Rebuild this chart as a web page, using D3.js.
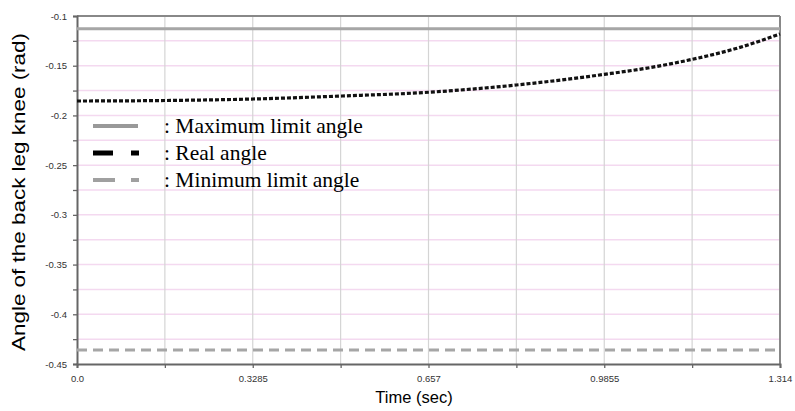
<!DOCTYPE html>
<html>
<head>
<meta charset="utf-8">
<script src="https://d3js.org/d3.v7.min.js"></script>
<style>
  body { margin: 0; background: #fff; }
  .tick text { font-family: Arial, "Liberation Sans", sans-serif; font-size: 9.5px; fill: #333; }
</style>
</head>
<body>
<script>
// ** data
var timeTicks = [0, 0.3285, 0.657, 0.9855, 1.314];
var timeTickLabels = ["0.0", "0.3285", "0.657", "0.9855", "1.314"];
var angleTicks = [-0.1, -0.15, -0.2, -0.25, -0.3, -0.35, -0.4, -0.45];
var realTime = [0, 0.16425, 0.3285, 0.49275, 0.657, 0.82125, 0.9855, 1.07, 1.14975, 1.23, 1.314];
var realAngle = [-0.1855, -0.185, -0.1835, -0.1805, -0.1767, -0.1694, -0.1587, -0.1520, -0.1436, -0.1330, -0.1181];
var maxLimit = -0.1128;
var minLimit = -0.436;
var legendLabels = [": Maximum limit angle", ": Real angle", ": Minimum limit angle"];

// ** canvas
var width = 795, height = 411;
var padding = { top: 16, right: 15, bottom: 47, left: 77 };
var w = width - padding.left - padding.right;
var h = height - padding.top - padding.bottom;

var svg = d3.select("body").append("svg")
    .attr("width", width)
    .attr("height", height);

var x = d3.scaleLinear().domain([0, 1.314]).range([0, w]);
var y = d3.scaleLinear().domain([-0.45, -0.1]).range([h, 0]);

var g = svg.append("g")
    .attr("transform", "translate(" + padding.left + "," + padding.top + ")");

// grid
var xGrid = d3.range(9).map(function(i){ return 1.314 * i / 8; });
var yGrid = d3.range(15).map(function(i){ return -0.45 + 0.025 * i; });

g.append("g").selectAll("line").data(yGrid.slice(1, 14)).enter().append("line")
    .attr("x1", 0).attr("x2", w)
    .attr("y1", function(d){ return y(d); })
    .attr("y2", function(d){ return y(d); })
    .attr("stroke", "#f4d9f0").attr("stroke-width", 1.5);

g.append("g").selectAll("line").data(xGrid.slice(1, 8)).enter().append("line")
    .attr("x1", function(d){ return x(d); })
    .attr("x2", function(d){ return x(d); })
    .attr("y1", 0).attr("y2", h)
    .attr("stroke", "#d4d4d4").attr("stroke-width", 1.2);

// frame: top and right border
g.append("line").attr("x1", 0).attr("x2", w).attr("y1", 0).attr("y2", 0)
    .attr("stroke", "#888").attr("stroke-width", 2);
g.append("line").attr("x1", w).attr("x2", w).attr("y1", 0).attr("y2", h)
    .attr("stroke", "#888").attr("stroke-width", 2);

// axes
var yAxis = g.append("g")
    .call(d3.axisLeft(y).tickValues(yGrid).tickSize(4).tickPadding(6)
        .tickFormat(function(d){
            var r = Math.round(d * 1000) / 1000;
            return angleTicks.some(function(a){ return Math.abs(a - r) < 1e-6; }) ? String(r) : "";
        }));
yAxis.select(".domain").attr("stroke", "#666").attr("stroke-width", 2);
yAxis.selectAll(".tick line").attr("stroke", "#666").attr("stroke-width", 1.3);

var xAxis = g.append("g")
    .attr("transform", "translate(0," + h + ")")
    .call(d3.axisBottom(x).tickValues(xGrid).tickSize(4).tickPadding(7)
        .tickFormat(function(d, i){ return i % 2 === 0 ? timeTickLabels[i / 2] : ""; }));
xAxis.select(".domain").attr("stroke", "#666").attr("stroke-width", 2);
xAxis.selectAll(".tick line").attr("stroke", "#666").attr("stroke-width", 1.3);

// limit lines
g.append("line")
    .attr("x1", 0).attr("x2", w)
    .attr("y1", y(maxLimit)).attr("y2", y(maxLimit))
    .attr("stroke", "#a6a6a6").attr("stroke-width", 3);
g.append("line")
    .attr("x1", 0).attr("x2", w)
    .attr("y1", y(minLimit)).attr("y2", y(minLimit))
    .attr("stroke", "#a6a6a6").attr("stroke-width", 3)
    .attr("stroke-dasharray", "10,6");

// real angle
var realData = realTime.map(function(t, i){ return { t: t, a: realAngle[i] }; });
var line = d3.line()
    .x(function(d){ return x(d.t); })
    .y(function(d){ return y(d.a); })
    .curve(d3.curveMonotoneX);
g.append("path")
    .attr("d", line(realData))
    .attr("fill", "none")
    .attr("stroke", "#111")
    .attr("stroke-width", 3.2)
    .attr("stroke-dasharray", "4,2");

// legend
var legend = svg.append("g");
var ly = [126, 153, 180];
legend.append("line").attr("x1", 93).attr("x2", 138).attr("y1", ly[0]).attr("y2", ly[0])
    .attr("stroke", "#999").attr("stroke-width", 4);
legend.append("line").attr("x1", 93).attr("x2", 139).attr("y1", ly[1]).attr("y2", ly[1])
    .attr("stroke", "#000").attr("stroke-width", 5).attr("stroke-dasharray", "20,18,8,0");
legend.append("line").attr("x1", 93).attr("x2", 139).attr("y1", ly[2]).attr("y2", ly[2])
    .attr("stroke", "#a0a0a0").attr("stroke-width", 4).attr("stroke-dasharray", "22,16,8,0");
legend.selectAll("text").data(legendLabels).enter().append("text")
    .attr("x", 164)
    .attr("y", function(d, i){ return ly[i] + 7; })
    .attr("font-family", "'Liberation Serif', 'Times New Roman', serif")
    .attr("font-size", "21.5px")
    .attr("fill", "#000")
    .text(function(d){ return d; });

// axis titles
svg.append("text")
    .attr("transform", "translate(25," + (padding.top + h / 2 + 2) + ") rotate(-90)")
    .attr("text-anchor", "middle")
    .attr("font-family", "Arial, 'Liberation Sans', sans-serif")
    .attr("font-size", "18px")
    .attr("textLength", 318)
    .attr("lengthAdjust", "spacingAndGlyphs")
    .text("Angle of the back leg knee (rad)");
svg.append("text")
    .attr("x", 414).attr("y", 403)
    .attr("text-anchor", "middle")
    .attr("font-family", "Arial, 'Liberation Sans', sans-serif")
    .attr("font-size", "16.5px")
    .text("Time (sec)");
</script>
</body>
</html>
